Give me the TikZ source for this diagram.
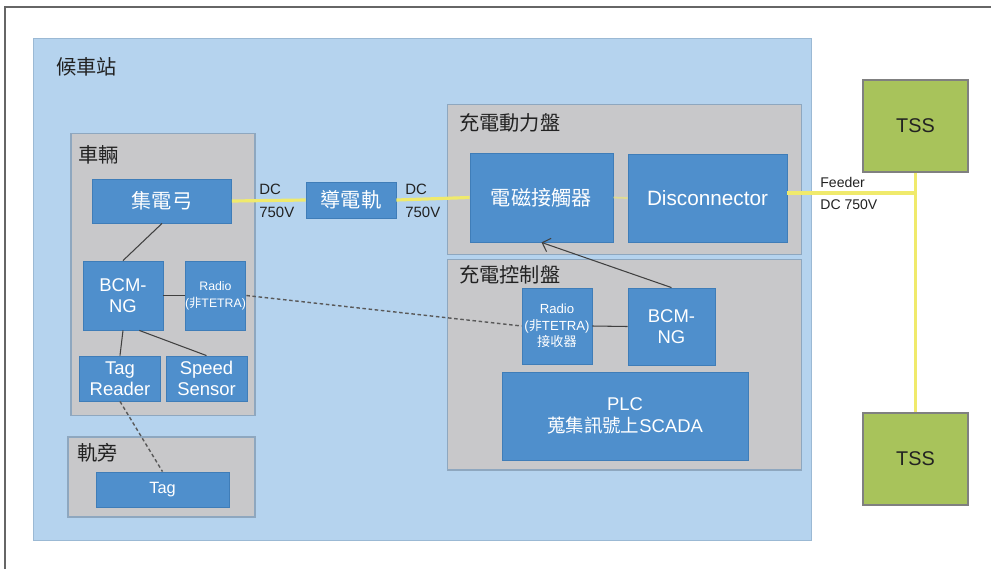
\documentclass[tikz,border=0pt]{standalone}
\usepackage{fontspec}
\setmainfont{Liberation Sans}
\newfontfamily\cjk{Noto Sans CJK TC}
\usepackage{tikz}
\usetikzlibrary{arrows.meta,positioning}
\definecolor{stationblue}{HTML}{B5D3EE}
\definecolor{stationline}{HTML}{9BB9D4}
\definecolor{grpgray}{HTML}{C8C8CA}
\definecolor{grpline}{HTML}{8EA7BF}
\definecolor{blkblue}{HTML}{4F8FCC}
\definecolor{blkline}{HTML}{3F7DB8}
\definecolor{tssgreen}{HTML}{A8C35B}
\definecolor{powerline}{HTML}{F0EA6C}
\definecolor{labeltext}{HTML}{222222}

\begin{document}
\begin{tikzpicture}[x=0.02cm, y=-0.02cm, >={Straight Barb[length=4pt]},
    grp/.style={draw=grpline, fill=grpgray, line width=0.6pt, inner sep=0pt},
    blk/.style={draw=blkline, fill=blkblue, line width=0.5pt, inner sep=0pt, text=white, align=center},
    tssbox/.style={draw=gray, fill=tssgreen, line width=0.6pt, inner sep=0pt, text=labeltext},
    grplabel/.style={anchor=west, inner sep=0pt, text=labeltext, font=\fontsize{11.5}{13}\selectfont\cjk},
    volt/.style={anchor=west, inner sep=0pt, align=left, text=labeltext, font=\fontsize{8.5}{13}\selectfont},
    wire/.style={draw=black!75, line width=0.6pt},
    radiolink/.style={draw=black!65, line width=0.8pt, dash pattern=on 2pt off 1.5pt},
    power/.style={draw=powerline, line width=1.8pt}]
    \useasboundingbox (0,0) rectangle (991,569);
    \draw[black!60, line width=1.2pt] (5,569) -- (5,7) -- (991,7);

    % groups
    \node at (422.5,289.5) [draw=stationline, fill=stationblue, line width=0.6pt, minimum width=15.58cm, minimum height=10.06cm] (station) {};
    \node at (56,67) [grplabel] (stationlbl) {候車站};
    \node at (163,274.5) [grp, minimum width=3.68cm, minimum height=5.65cm] (vehicle) {};
    \node at (78,155) [grplabel] (vehiclelbl) {車輛};
    \node at (161.5,477) [grp, minimum width=3.74cm, minimum height=1.6cm] (wayside) {};
    \node at (77,453) [grplabel] (waysidelbl) {軌旁};
    \node at (624.5,179.5) [grp, minimum width=7.1cm, minimum height=3.0cm] (powerpanel) {};
    \node at (459,123) [grplabel] (powerlbl) {充電動力盤};
    \node at (624.5,364.5) [grp, minimum width=7.1cm, minimum height=4.22cm] (ctrlpanel) {};
    \node at (459,275) [grplabel] (ctrllbl) {充電控制盤};

    % vehicle
    \node at (162,201) [blk, minimum width=2.78cm, minimum height=.88cm, font=\fontsize{11.5}{13}\selectfont\cjk] (pantograph) {集電弓};
    \node at (123,295.5) [blk, minimum width=1.6cm, minimum height=1.38cm, font=\fontsize{10.5}{12}\selectfont] (bcmV) {BCM-\\NG};
    \node at (215.5,295.5) [blk, minimum width=1.18cm, minimum height=1.38cm, font=\fontsize{7}{9.6}\selectfont] (radioV) {Radio\\({\cjk 非}TETRA)};
    \node at (120,378.5) [blk, minimum width=1.62cm, minimum height=.9cm, font=\fontsize{10.5}{12}\selectfont] (tagreader) {Tag\\Reader};
    \node at (206.5,378.5) [blk, minimum width=1.62cm, minimum height=.9cm, font=\fontsize{10.5}{12}\selectfont] (speed) {Speed\\Sensor};
    \node at (162.5,489.5) [blk, minimum width=2.66cm, minimum height=.7cm, font=\fontsize{9.3}{11}\selectfont] (tag) {Tag};

    % rail and panels
    \node at (351,200) [blk, minimum width=1.8cm, minimum height=.72cm, font=\fontsize{11.5}{13}\selectfont\cjk] (rail) {導電軌};
    \node at (541.5,197.5) [blk, minimum width=2.86cm, minimum height=1.78cm, font=\fontsize{11.5}{13}\selectfont\cjk] (contactor) {電磁接觸器};
    \node at (707.5,198) [blk, minimum width=3.18cm, minimum height=1.76cm, font=\fontsize{11.8}{13}\selectfont] (disconnector) {Disconnector};
    \node at (557,326) [blk, minimum width=1.4cm, minimum height=1.52cm, font=\fontsize{7.5}{9.4}\selectfont] (radioS) {Radio\\({\cjk 非}TETRA)\\{\cjk 接收器}};
    \node at (671.5,326.5) [blk, minimum width=1.74cm, minimum height=1.54cm, font=\fontsize{10.5}{12}\selectfont] (bcmS) {BCM-\\NG};
    \node at (625,416) [blk, minimum width=4.92cm, minimum height=1.76cm, font=\fontsize{10.5}{12.2}\selectfont] (plc) {PLC\\{\cjk 蒐集訊號上}SCADA};

    % substations
    \node at (915.5,126) [tssbox, minimum width=2.1cm, minimum height=1.84cm, font=\fontsize{11.3}{13}\selectfont] (tssA) {TSS};
    \node at (915.5,459) [tssbox, minimum width=2.1cm, minimum height=1.84cm, font=\fontsize{11.3}{13}\selectfont] (tssB) {TSS};

    % voltage labels
    \node at (259,200.5) [volt] (dcA) {DC\\750V};
    \node at (405,200.5) [volt] (dcB) {DC\\750V};
    \node at (820,193.5) [volt, font=\fontsize{8}{12}\selectfont] (feederlbl) {Feeder\\DC 750V};

    % power path
    \draw[power] (pantograph.east) -- (rail.west);
    \draw[power] (rail.east) -- (contactor.west);
    \draw[power, line width=1pt, opacity=.6] (contactor.east) -- (disconnector.west);
    \coordinate (feedjoint) at (tssA.south |- 0,193);
    \draw[power] (disconnector.east |- feedjoint) -- (feedjoint);
    \draw[power] (tssA.south) -- (tssB.north);

    % signals
    \draw[wire] (pantograph.south) -- (bcmV.north);
    \draw[wire] (bcmV.east) -- (radioV.west);
    \draw[wire] (bcmV.south) -- (tagreader.north);
    \draw[wire] (bcmV.-65) -- (speed.north);
    \draw[wire] (radioS.east) -- (bcmS.west);
    \draw[wire, ->] (bcmS.north) -- (contactor.south);
    \draw[radiolink] (radioV.east) -- (radioS.west);
    \draw[radiolink] (tagreader.south) -- (tag.north);
\end{tikzpicture}
\end{document}
